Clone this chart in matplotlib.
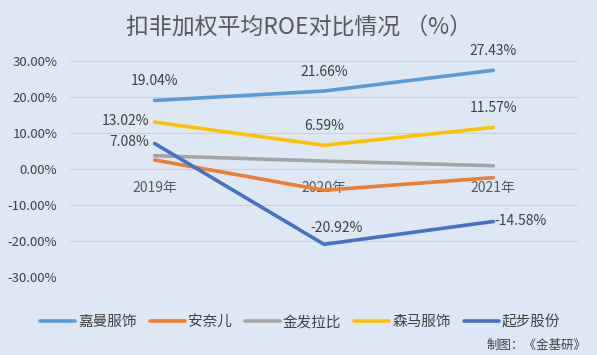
import numpy as np
import matplotlib
matplotlib.use("Agg")
import matplotlib.pyplot as plt

plt.rcParams["font.family"] = ["Noto Sans CJK SC", "DejaVu Sans"]

years = ["2019年", "2020年", "2021年"]
names = ["嘉曼服饰", "安奈儿", "金发拉比", "森马服饰", "起步股份"]
jiaman = [19.04, 21.66, 27.43]
annaier = [2.5, -5.9, -2.4]
jinfa = [3.7, 2.2, 0.9]
senma = [13.02, 6.59, 11.57]
qibu = [7.08, -20.92, -14.58]
series = [jiaman, annaier, jinfa, senma, qibu]
colors = ["#5B9BD5", "#ED7D31", "#A5A5A5", "#FFC000", "#4472C4"]
# which series carry data labels, and where each label sits
labelled = {0: ["above", "above", "above"], 3: ["left", "above", "above"], 4: ["left", "upright", "right"]}

BG = "#DEE8F4"
TXT = "#404040"
fig = plt.figure(figsize=(5.97, 3.55), dpi=100, facecolor=BG)
ax = fig.add_axes([70/597, 1-277/355, 508/597, 216/355], facecolor=BG)
x = np.arange(len(years))
ax.set_xlim(-0.5, 2.5); ax.set_ylim(-30, 30)
ax.set_yticks(np.arange(-30, 31, 10))
ax.set_yticklabels([f"{v:.2f}%" for v in np.arange(-30, 31, 10)], fontsize=9.5, color=TXT)
ax.tick_params(axis="y", length=0, pad=9)
ax.set_xticks([])
for s in ax.spines.values(): s.set_visible(False)
ax.grid(axis="y", color="#D0D0D0", lw=0.8)
ax.set_axisbelow(True)

for xi, y in zip(x, years):
    ax.text(xi, -5.3, y, ha="center", va="center", fontsize=10, color="#595959", zorder=2)

offs = {"above": ((0, 14), "center"), "left": ((-4, 1), "right"),
        "right": ((1, 0), "left"), "upright": ((9, 12), "center")}
for i, (vals, c, n) in enumerate(zip(series, colors, names)):
    ax.plot(x, vals, color=c, lw=2.6, solid_capstyle="round", label=n, zorder=3)
    if i in labelled:
        for xi, v, pos in zip(x, vals, labelled[i]):
            (dx, dy), ha = offs[pos]
            ax.annotate(f"{v:.2f}%", (xi, v), xytext=(dx, dy), textcoords="offset points",
                        ha=ha, va="center", fontsize=10, color=TXT, zorder=4)

fig.text(0.5, 0.922, "扣非加权平均ROE对比情况 （%）", ha="center", va="center", fontsize=16.5, color="#595959")
fig.legend(loc="center", bbox_to_anchor=(0.503, 0.093), ncol=5, frameon=False, fontsize=10.5,
           handlelength=2.4, handletextpad=0.2, columnspacing=0.9, labelcolor=TXT)
fig.text(0.983, 0.028, "制图：《金基研》", ha="right", va="center", fontsize=9, color=TXT)
fig.savefig("out.png", dpi=100, facecolor=BG)
